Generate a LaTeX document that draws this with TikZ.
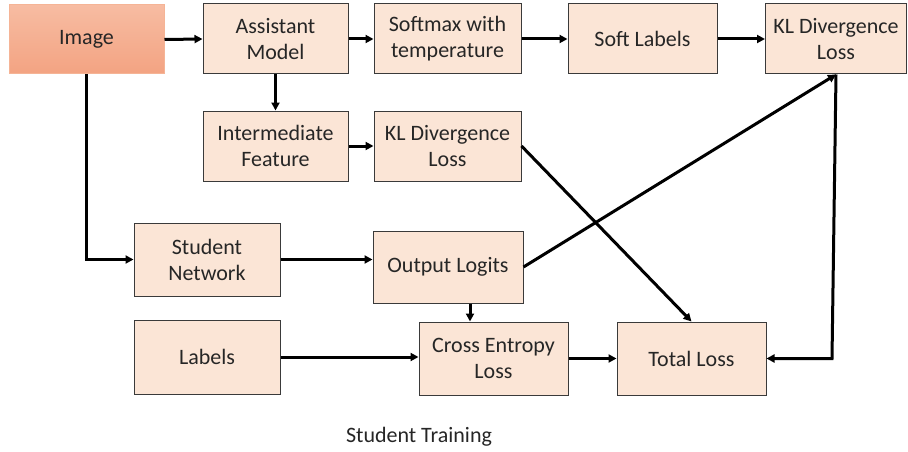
\documentclass[tikz,border=0pt]{standalone}
\usepackage{fontspec}
\setmainfont{Carlito}
\usetikzlibrary{arrows.meta}
\definecolor{boxfill}{HTML}{FBE5D6}
\definecolor{boxline}{HTML}{3A3A3A}
\definecolor{txt}{HTML}{262626}
\definecolor{imgtop}{HTML}{F7BCA2}
\definecolor{imgbot}{HTML}{F3A382}
\definecolor{imgline}{HTML}{F5B496}
\tikzset{
  box/.style={draw=boxline, line width=1pt, fill=boxfill, text=txt, align=center,
    font=\fontsize{22}{26}\selectfont, inner sep=0pt},
  conn/.style={line width=3pt, -{Triangle[length=8pt,width=8pt]}},
  plain/.style={line width=3pt}
}
\begin{document}
\begin{tikzpicture}[x=1pt,y=-1pt]
\useasboundingbox (0,0) rectangle (908,452);
\node[box, draw=imgline, top color=imgtop, bottom color=imgbot, minimum width=155pt, minimum height=69pt] (img) at (86.5,39.5) {Image};
\node[box, minimum width=145pt, minimum height=70pt] (am) at (275.5,39) {Assistant\\Model};
\node[box, minimum width=147pt, minimum height=70pt] (sm) at (447.5,39) {Softmax with\\temperature};
\node[box, minimum width=149pt, minimum height=70pt] (sl) at (642.5,39) {Soft Labels};
\node[box, minimum width=141pt, minimum height=70pt] (klt) at (836,39) {KL Divergence\\Loss};
\node[box, minimum width=145pt, minimum height=70pt] (if) at (275.5,146) {Intermediate\\Feature};
\node[box, minimum width=147pt, minimum height=70pt] (klm) at (447.5,146) {KL Divergence\\Loss};
\node[box, minimum width=146pt, minimum height=73pt] (sn) at (207,259.5) {Student\\Network};
\node[box, minimum width=150pt, minimum height=72pt] (ol) at (448,267) {Output Logits};
\node[box, minimum width=146pt, minimum height=74pt] (lb) at (207,357) {Labels};
\node[box, minimum width=149pt, minimum height=73pt] (ce) at (493.5,358.5) {Cross Entropy\\Loss};
\node[box, minimum width=149pt, minimum height=73pt] (tl) at (691.5,358.5) {Total Loss};
\node[text=txt, font=\fontsize{22}{26}\selectfont, inner sep=0pt] (cap) at (419,437) {Student Training};
\coordinate (bend) at (832,358.5);

\draw[conn] (img.east) -- (am.west);
\draw[conn] (am.east) -- (sm.west);
\draw[conn] (sm.east) -- (sl.west);
\draw[conn] (sl.east) -- (klt.west);
\draw[conn] (am.south) -- (if.north);
\draw[conn] (if.east) -- (klm.west);
\draw[conn] (img.south) |- (sn.west);
\draw[conn] (sn.east) -- (sn.east -| ol.west);
\draw[conn] (ol.east) -- (klt.south);
\draw[conn] (klm.east) -- (tl.north);
\draw[conn] ([xshift=22pt]ol.south) -- ([xshift=22pt]ol.south |- ce.north);
\draw[conn] (lb.east) -- (lb.east -| ce.west);
\draw[conn] (ce.east) -- (tl.west);
\draw[conn] (klt.south) -- (bend) -- (tl.east);
\end{tikzpicture}
\end{document}
